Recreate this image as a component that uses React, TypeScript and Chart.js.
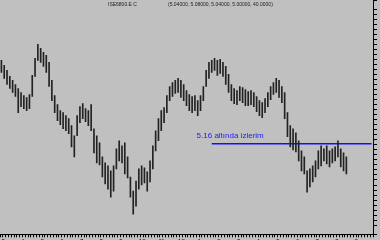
import { useEffect, useRef } from 'react';
import { Chart, registerables } from 'chart.js';

Chart.register(...registerables);

const highs = [
  5.99, 5.94, 5.89, 5.83, 5.79, 5.75, 5.71, 5.67, 5.64, 5.62,
  5.65, 5.84, 6.01, 6.15, 6.11, 6.07, 6.04, 5.97, 5.79, 5.64,
  5.55, 5.49, 5.47, 5.44, 5.41, 5.34, 5.24, 5.44, 5.53, 5.56,
  5.51, 5.49, 5.55, 5.31, 5.24, 5.17, 5.03, 4.97, 4.94, 4.89,
  4.94, 5.11, 5.19, 5.14, 5.17, 5.03, 4.83, 4.69, 4.79, 4.91,
  4.94, 4.92, 4.88, 4.99, 5.14, 5.29, 5.41, 5.49, 5.52, 5.64,
  5.73, 5.77, 5.79, 5.81, 5.79, 5.75, 5.69, 5.65, 5.63, 5.64,
  5.59, 5.64, 5.73, 5.89, 5.97, 5.99, 6.01, 5.99, 6.00, 5.97,
  5.93, 5.85, 5.75, 5.71, 5.69, 5.73, 5.72, 5.70, 5.68, 5.69,
  5.67, 5.63, 5.59, 5.57, 5.61, 5.67, 5.73, 5.77, 5.81, 5.79,
  5.73, 5.67, 5.47, 5.34, 5.31, 5.27, 5.19, 5.09, 5.03, 4.89,
  4.91, 4.94, 4.99, 5.09, 5.14, 5.11, 5.14, 5.09, 5.11, 5.13,
  5.19, 5.11, 5.07, 5.03,
];

const lows = [
  5.87, 5.81, 5.75, 5.71, 5.67, 5.63, 5.47, 5.53, 5.51, 5.49,
  5.51, 5.63, 5.83, 5.99, 5.97, 5.93, 5.87, 5.73, 5.59, 5.47,
  5.39, 5.35, 5.31, 5.29, 5.26, 5.13, 5.03, 5.24, 5.37, 5.41,
  5.38, 5.34, 5.29, 5.07, 4.97, 4.95, 4.83, 4.76, 4.71, 4.63,
  4.69, 4.91, 4.99, 4.97, 4.86, 4.82, 4.63, 4.46, 4.54, 4.71,
  4.75, 4.77, 4.69, 4.78, 4.91, 5.09, 5.19, 5.29, 5.37, 5.47,
  5.59, 5.63, 5.66, 5.67, 5.62, 5.59, 5.54, 5.49, 5.47, 5.49,
  5.44, 5.49, 5.59, 5.73, 5.81, 5.87, 5.89, 5.84, 5.86, 5.83,
  5.75, 5.67, 5.59, 5.56, 5.55, 5.59, 5.57, 5.54, 5.54, 5.55,
  5.53, 5.48, 5.44, 5.42, 5.47, 5.53, 5.60, 5.65, 5.67, 5.62,
  5.57, 5.41, 5.23, 5.13, 5.10, 5.08, 4.99, 4.89, 4.86, 4.68,
  4.73, 4.78, 4.83, 4.91, 4.94, 4.99, 4.96, 4.93, 4.97, 4.99,
  5.03, 4.93, 4.89, 4.86,
];

const periodLabels = ['3', '4', '5', '6', '7', '8', '9', '10', '11', '12', '1', '2', '3', '4', '5', '6', '7', '8', '9'];
const slotCount = 133;
const labelEvery = 7;

const levelValue = 5.16;
const levelStartSlot = 75;
const noteText = '5.16 altında izlerim';
const noteSlot = 69.6;
const noteValue = 5.22;
const symbolText = 'ISE6800.E C';
const ohlcText = '(5.04000, 5.08000, 5.04000, 5.00000, 40.0000)';

const yMin = 4.26;
const yMax = 6.59;

export default function App() {
  const ref = useRef<HTMLCanvasElement | null>(null);

  useEffect(() => {
    document.body.style.margin = '0';
    document.body.style.overflow = 'hidden';
    const canvas = ref.current;
    if (!canvas) return;

    const categories: string[] = [];
    for (let i = 0; i < slotCount; i++) {
      categories.push(i % labelEvery === 0 ? periodLabels[i / labelEvery] ?? '' : '');
    }
    const ranges = lows.map((l, i) => [l, highs[i]]);
    const level = categories.map((_, i) => (i >= levelStartSlot ? levelValue : null));

    const bgPlugin = {
      id: 'bg',
      beforeDraw(chart: any) {
        const ctx = chart.ctx;
        ctx.save();
        ctx.fillStyle = '#c0c0c0';
        ctx.fillRect(0, 0, chart.width, chart.height);
        ctx.restore();
      },
    };

    const textPlugin = {
      id: 'texts',
      afterDatasetsDraw(chart: any) {
        const ctx = chart.ctx;
        const xs = chart.scales.x;
        const ys = chart.scales.y;
        ctx.save();
        ctx.fillStyle = '#1a1aff';
        ctx.font = '8px "Liberation Sans", Arial, sans-serif';
        ctx.textAlign = 'left';
        ctx.textBaseline = 'alphabetic';
        ctx.fillText(noteText, xs.getPixelForValue(noteSlot), ys.getPixelForValue(noteValue));
        ctx.fillStyle = '#202020';
        ctx.font = '5px "Liberation Sans", Arial, sans-serif';
        ctx.textBaseline = 'top';
        ctx.fillText(symbolText, 108, 2);
        ctx.fillText(ohlcText, 168, 2);
        ctx.restore();
      },
    };

    const chart = new Chart(canvas, {
      type: 'bar',
      data: {
        labels: categories,
        datasets: [
          {
            type: 'bar',
            data: ranges as any,
            backgroundColor: '#222222',
            borderWidth: 0,
            barThickness: 1,
          },
          {
            type: 'line',
            data: level as any,
            borderColor: '#1010ff',
            borderWidth: 1.5,
            pointRadius: 0,
            fill: false,
          },
        ],
      },
      options: {
        animation: false,
        responsive: false,
        layout: { padding: { left: 0, right: 3, top: 0, bottom: 1.5 } },
        plugins: { legend: { display: false }, tooltip: { enabled: false } },
        scales: {
          x: {
            grid: { display: true, drawOnChartArea: false, drawTicks: true, tickLength: 3, color: '#000' },
            border: { display: true, color: '#000', width: 1 },
            ticks: {
              autoSkip: false,
              maxRotation: 0,
              minRotation: 0,
              align: 'start',
              padding: 0,
              color: '#000',
              font: { size: 6, family: '"Liberation Sans", Arial, sans-serif' },
            },
          },
          y: {
            position: 'right',
            min: yMin,
            max: yMax,
            grid: { display: true, drawOnChartArea: false, drawTicks: true, tickLength: 4, color: '#000' },
            border: { display: true, color: '#000', width: 1 },
            ticks: { display: false, stepSize: 0.05, maxTicksLimit: 60 },
          },
        },
      },
      plugins: [bgPlugin, textPlugin],
    });

    return () => chart.destroy();
  }, []);

  return (
    <div style={{ width: 380, height: 246 }}>
      <canvas ref={ref} width={380} height={246} />
    </div>
  );
}
